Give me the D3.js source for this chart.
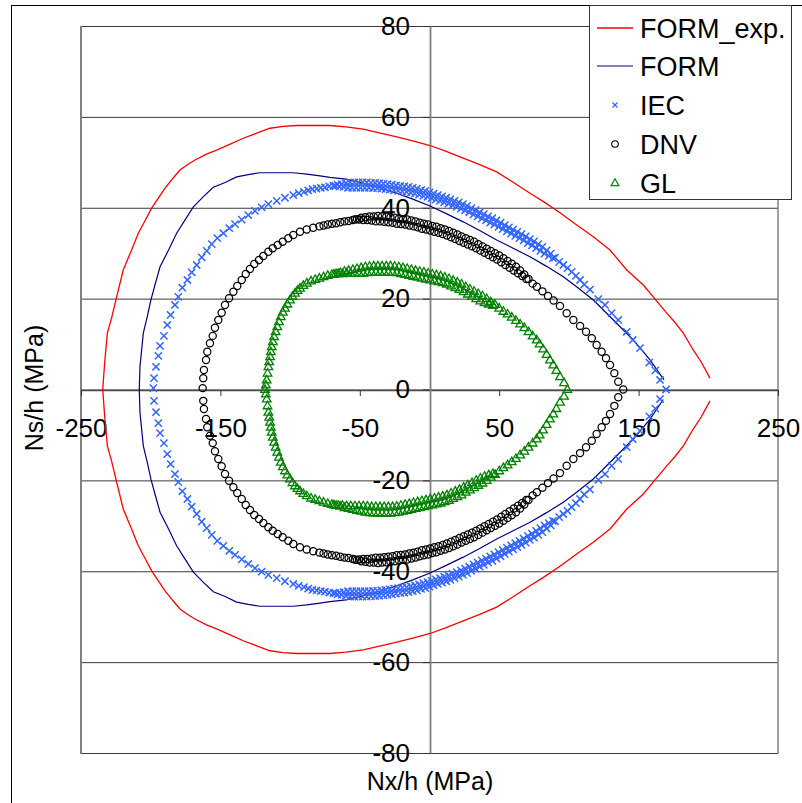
<!DOCTYPE html>
<html>
<head>
<meta charset="utf-8">
<script src="https://cdn.jsdelivr.net/npm/d3@7"></script>
<style>
  body { margin: 0; background: #fff; }
  text { font-family: "Liberation Sans", Arial, sans-serif; }
</style>
</head>
<body>
<div id="chart-area"></div>
<script>
var width = 802;
var height = 803;

// axis ticks
var xTicks = [-250, -150, -50, 50, 150, 250];
var yTicks = [-80, -60, -40, -20, 0, 20, 40, 60, 80];

var legendNames = ["FORM_exp.", "FORM", "IEC", "DNV", "GL"];

// FORM_exp. line (open on the right side)
var formExp = [[201.2,2.5],[195,6],[189.2,8.7],[182.1,12.4],[176,14.8],[170.2,16.8],[161.8,19.9],[153.4,23.0],[141.5,26.3],[129.5,30.7],[117.5,33.6],[105.6,36.2],[93.6,38.9],[82,41.3],[72.1,43.2],[60,45.6],[48.2,47.9],[36,49.5],[24.2,50.9],[12,52.4],[0.4,53.7],[-12,54.7],[-23.5,55.6],[-36,56.5],[-47.5,57.3],[-60,57.8],[-71.4,58.1],[-83,58.1],[-95.3,58.1],[-105,57.9],[-114.4,57.5],[-124,56.4],[-133.6,55.3],[-143,54.0],[-152.7,52.7],[-160,51.8],[-168.2,50.5],[-174,49.4],[-179,48.3],[-184,46.5],[-189.7,44.3],[-195,41.9],[-199.3,39.9],[-204,37.2],[-208.9,34.4],[-214,30.5],[-219.7,26.3],[-224.9,19.8],[-228,15.8],[-231.1,12.4],[-233,6],[-234.4,0],
  [-233,-6],[-231.1,-12.4],[-228,-15.8],[-224.9,-19.8],[-219.7,-26.3],[-214,-30.5],[-208.9,-34.4],[-204,-37.2],[-199.3,-39.9],[-195,-41.9],[-189.7,-44.3],[-184,-46.5],[-179,-48.3],[-174,-49.4],[-168.2,-50.5],[-160,-51.8],[-152.7,-52.7],[-143,-54.0],[-133.6,-55.3],[-124,-56.4],[-114.4,-57.5],[-105,-57.9],[-95.3,-58.1],[-83,-58.1],[-71.4,-58.1],[-60,-57.8],[-47.5,-57.3],[-36,-56.5],[-23.5,-55.6],[-12,-54.7],[0.4,-53.7],[12,-52.4],[24.2,-50.9],[36,-49.5],[48.2,-47.9],[60,-45.6],[72.1,-43.2],[82,-41.3],[93.6,-38.9],[105.6,-36.2],[117.5,-33.6],[129.5,-30.7],[141.5,-26.3],[153.4,-23.0],[161.8,-19.9],[170.2,-16.8],[176,-14.8],[182.1,-12.4],[189.2,-8.7],[195,-6],[201.2,-2.5]];

// FORM line
var form = [[168.2,2.1],[158.2,6.5],[146.2,10.9],[131.9,15.3],[117.5,19.7],[106,22.5],[96,24.8],[84,27.1],[72.1,29.2],[60,31.1],[48.2,32.9],[36,35.0],[24.2,36.9],[12,38.7],[0.4,40.4],[-12,41.9],[-23.5,43.2],[-36,44.4],[-47.5,45.4],[-60,46.3],[-71.4,46.7],[-78.5,47.0],[-88,47.4],[-97.7,47.7],[-110,47.7],[-121.6,47.7],[-130,47.3],[-138.3,46.8],[-147,45.5],[-155.1,44.5],[-162,42.5],[-169.4,40.2],[-175,37.5],[-181.4,34.4],[-187,30.8],[-193.3,27.0],[-196.5,23.5],[-199.8,19.8],[-202.5,16],[-205.3,12.4],[-207.7,5.0],[-208.2,0],
  [-207.7,-5.0],[-205.3,-12.4],[-202.5,-16],[-199.8,-19.8],[-196.5,-23.5],[-193.3,-27.0],[-187,-30.8],[-181.4,-34.4],[-175,-37.5],[-169.4,-40.2],[-162,-42.5],[-155.1,-44.5],[-147,-45.5],[-138.3,-46.8],[-130,-47.3],[-121.6,-47.7],[-110,-47.7],[-97.7,-47.7],[-88,-47.4],[-78.5,-47.0],[-71.4,-46.7],[-60,-46.3],[-47.5,-45.4],[-36,-44.4],[-23.5,-43.2],[-12,-41.9],[0.4,-40.4],[12,-38.7],[24.2,-36.9],[36,-35.0],[48.2,-32.9],[60,-31.1],[72.1,-29.2],[84,-27.1],[96,-24.8],[106,-22.5],[117.5,-19.7],[131.9,-15.3],[146.2,-10.9],[158.2,-6.5],[167.7,-2.2]];

// IEC points
var iecUpper = [[169.7,0],[165.4,2.1],[162,4.2],[157.7,5.9],[151,9.1],[145.8,10.9],[141.5,12.7],[135.4,15.3],[130.7,16.8],[125.9,18.6],[121.1,19.9],[115.1,22.0],[111,23.1],[108,24.1],[105,25.0],[102,25.9],[99,26.7],[96,27.4],[93,28.1],
  [90,29.0],[88.5,28.9],[87,29.9],[85.5,29.4],[84,30.6],[82.5,29.9],[81,31.4],[79.5,30.5],[78,32.0],[76.5,31.1],[75,32.6],[73.5,31.7],[72,33.1],[70.5,32.2],[69,33.7],[67.5,32.8],[66,34.2],[64.5,33.3],[63,34.7],[61.5,33.8],[60,35.2],[58.5,34.3],[57,35.7],[55.5,34.8],[54,36.2],[52.5,35.3],[51,36.7],[49.5,35.8],[48,37.2],[46.5,36.3],[45,37.7],[43.5,36.7],[42,38.1],[40.5,37.2],[39,38.6],[37.5,37.6],[36,39.0],[34.5,38.1],[33,39.5],[31.5,38.5],[30,39.9],[28.5,39.0],[27,40.4],[25.5,39.4],[24,40.8],[22.5,39.8],[21,41.2],[19.5,40.2],[18,41.5],[16.5,40.5],[15,41.9],[13.5,40.9],[12,42.2],[10.5,41.2],[9,42.5],[7.5,41.5],[6,42.8],[4.5,41.8],[3,43.1],[1.5,42.1],[0,43.4],[-1.5,42.4],[-3,43.7],[-4.5,42.6],[-6,43.9],[-7.5,42.9],[-9,44.2],[-10.5,43.1],[-12,44.4],[-13.5,43.3],[-15,44.6],[-16.5,43.5],[-18,44.7],[-19.5,43.6],[-21,44.8],[-22.5,43.7],[-24,44.9],[-25.5,43.8],[-27,45.1],[-28.5,44.0],[-30,45.2],[-31.5,44.1],[-33,45.3],[-34.5,44.2],[-36,45.4],[-37.5,44.3],[-39,45.5],[-40.5,44.3],[-42,45.5],[-43.5,44.4],[-45,45.6],[-46.5,44.4],[-48,45.6],[-49.5,44.4],[-51,45.6],[-52.5,44.4],[-54,45.6],[-55.5,44.4],[-57,45.6],[-58.5,44.4],[-60,45.4],[-61.5,44.6],[-63,45.2],[-64.5,44.7],[-66,45.1],[-67.5,44.8],[-69,44.8],
  [-72,44.7],[-75,44.5],[-78,44.4],[-81,44.2],[-84,44.1],[-87,43.8],[-90,43.5],[-93.8,43.2],[-97.7,42.8],[-103.7,42.2],[-109.6,41.5],[-115.6,40.8],[-120.4,40.1],[-125.2,39.3],[-130,38.4],[-134.7,37.4],[-139.5,36.4],[-143.6,35.5],[-147.9,34.4],[-152.2,33.3],[-156.2,32.0],[-159.8,30.5],[-163.4,29.1],[-167,27.4],[-170.6,25.8],[-173.7,24.1],[-177.3,22.4],[-180.2,20.4],[-182.6,18.6],[-185.7,16.4],[-188.1,14.2],[-190.5,11.8],[-193.3,9.6],[-194.5,7.4],[-196.2,5.0],[-197.6,2.5],[-198.1,0.3]];
var iecLower = [[165.4,-2.1],[162,-4.2],[157.7,-5.9],[151,-9.1],[145.8,-10.9],[141.5,-12.7],[135.4,-15.3],[130.7,-16.8],[125.9,-18.6],[121.1,-19.9],[115.1,-22.0],[111,-23.1],[108,-24.1],[105,-25.0],[102,-25.9],[99,-26.7],[96,-27.4],[93,-28.1],
  [90,-29.0],[88.5,-28.9],[87,-29.9],[85.5,-29.4],[84,-30.6],[82.5,-29.9],[81,-31.4],[79.5,-30.5],[78,-32.0],[76.5,-31.1],[75,-32.6],[73.5,-31.7],[72,-33.1],[70.5,-32.2],[69,-33.7],[67.5,-32.8],[66,-34.2],[64.5,-33.3],[63,-34.7],[61.5,-33.8],[60,-35.2],[58.5,-34.3],[57,-35.7],[55.5,-34.8],[54,-36.2],[52.5,-35.3],[51,-36.7],[49.5,-35.8],[48,-37.2],[46.5,-36.3],[45,-37.7],[43.5,-36.7],[42,-38.1],[40.5,-37.2],[39,-38.6],[37.5,-37.6],[36,-39.0],[34.5,-38.1],[33,-39.5],[31.5,-38.5],[30,-39.9],[28.5,-39.0],[27,-40.4],[25.5,-39.4],[24,-40.8],[22.5,-39.8],[21,-41.2],[19.5,-40.2],[18,-41.5],[16.5,-40.5],[15,-41.9],[13.5,-40.9],[12,-42.2],[10.5,-41.2],[9,-42.5],[7.5,-41.5],[6,-42.8],[4.5,-41.8],[3,-43.1],[1.5,-42.1],[0,-43.4],[-1.5,-42.4],[-3,-43.7],[-4.5,-42.6],[-6,-43.9],[-7.5,-42.9],[-9,-44.2],[-10.5,-43.1],[-12,-44.4],[-13.5,-43.3],[-15,-44.6],[-16.5,-43.5],[-18,-44.7],[-19.5,-43.6],[-21,-44.8],[-22.5,-43.7],[-24,-44.9],[-25.5,-43.8],[-27,-45.1],[-28.5,-44.0],[-30,-45.2],[-31.5,-44.1],[-33,-45.3],[-34.5,-44.2],[-36,-45.4],[-37.5,-44.3],[-39,-45.5],[-40.5,-44.3],[-42,-45.5],[-43.5,-44.4],[-45,-45.6],[-46.5,-44.4],[-48,-45.6],[-49.5,-44.4],[-51,-45.6],[-52.5,-44.4],[-54,-45.6],[-55.5,-44.4],[-57,-45.6],[-58.5,-44.4],[-60,-45.4],[-61.5,-44.6],[-63,-45.2],[-64.5,-44.7],[-66,-45.1],[-67.5,-44.8],[-69,-44.8],
  [-72,-44.7],[-75,-44.5],[-78,-44.4],[-81,-44.2],[-84,-44.1],[-87,-43.8],[-90,-43.5],[-93.8,-43.2],[-97.7,-42.8],[-103.7,-42.2],[-109.6,-41.5],[-115.6,-40.8],[-120.4,-40.1],[-125.2,-39.3],[-130,-38.4],[-134.7,-37.4],[-139.5,-36.4],[-143.6,-35.5],[-147.9,-34.4],[-152.2,-33.3],[-156.2,-32.0],[-159.8,-30.5],[-163.4,-29.1],[-167,-27.4],[-170.6,-25.8],[-173.7,-24.1],[-177.3,-22.4],[-180.2,-20.4],[-182.6,-18.6],[-185.7,-16.4],[-188.1,-14.2],[-190.5,-11.8],[-193.3,-9.6],[-194.5,-7.4],[-196.2,-5.0],[-197.6,-2.5]];

// DNV points
var dnvUpper = [[139,0],[135.4,1.7],[132.6,3.6],[129.5,5.4],[126.6,6.9],[123.5,8.3],[119.9,9.8],[116.4,11.3],[112.3,12.7],[108,14.0],[103.2,15.3],[98.4,16.8],[93.6,18.4],[89,19.6],[85,20.6],[81,21.6],[77,22.6],[74,23.3],
  [71,24.3],[69.5,24.3],[68,25.3],[66.5,25.0],[65,26.2],[63.5,25.6],[62,27.0],[60.5,26.2],[59,27.7],[57.5,26.8],[56,28.3],[54.5,27.4],[53,28.9],[51.5,28.0],[50,29.5],[48.5,28.6],[47,30.0],[45.5,29.1],[44,30.5],[42.5,29.6],[41,31.0],[39.5,30.1],[38,31.5],[36.5,30.6],[35,32.0],[33.5,31.1],[32,32.5],[30.5,31.5],[29,32.9],[27.5,31.9],[26,33.3],[24.5,32.3],[23,33.7],[21.5,32.7],[20,34.1],[18.5,33.1],[17,34.5],[15.5,33.5],[14,34.9],[12.5,33.9],[11,35.2],[9.5,34.2],[8,35.5],[6.5,34.5],[5,35.8],[3.5,34.7],[2,36.0],[0.5,35.0],[-1,36.3],[-2.5,35.2],[-4,36.5],[-5.5,35.4],[-7,36.7],[-8.5,35.7],[-10,37.0],[-11.5,35.9],[-13,37.2],[-14.5,36.1],[-16,37.4],[-17.5,36.3],[-19,37.5],[-20.5,36.4],[-22,37.6],[-23.5,36.5],[-25,37.8],[-26.5,36.7],[-28,37.9],[-29.5,36.8],[-31,38.0],[-32.5,36.9],[-34,38.1],[-35.5,37.0],[-37,38.2],[-38.5,37.0],[-40,38.1],[-41.5,37.2],[-43,38.1],[-44.5,37.3],[-46,37.9],[-47.5,37.3],[-49,37.8],[-50.5,37.4],[-52,37.5],[-53.5,37.4],[-55,37.3],[-58,37.1],
  [-61,37.0],[-64,36.8],[-67,36.6],[-70,36.5],[-73,36.3],[-76,36.1],[-79,35.9],[-83.4,35.6],[-88.1,35.2],[-92.9,34.7],[-97.7,34.0],[-101.3,33.3],[-105.3,32.5],[-108.9,31.8],[-112.5,31.1],[-115.6,30.3],[-119.2,29.4],[-122.3,28.5],[-125.7,27.6],[-128.8,26.5],[-131.8,25.4],[-134.7,24.1],[-137.9,22.8],[-140.7,21.5],[-143.8,20.1],[-146.7,18.6],[-149.1,16.9],[-151.5,15.3],[-153.9,13.6],[-155.5,11.8],[-157.5,10.2],[-159.4,8.3],[-160.3,6.5],[-161.8,4.3],[-162.3,2.5],[-162.7,0.3]];
var dnvLower = [[135.4,-1.7],[132.6,-3.6],[129.5,-5.4],[126.6,-6.9],[123.5,-8.3],[119.9,-9.8],[116.4,-11.3],[112.3,-12.7],[108,-14.0],[103.2,-15.3],[98.4,-16.8],[93.6,-18.4],[89,-19.6],[85,-20.6],[81,-21.6],[77,-22.6],[74,-23.3],
  [71,-24.3],[69.5,-24.3],[68,-25.3],[66.5,-25.0],[65,-26.2],[63.5,-25.6],[62,-27.0],[60.5,-26.2],[59,-27.7],[57.5,-26.8],[56,-28.3],[54.5,-27.4],[53,-28.9],[51.5,-28.0],[50,-29.5],[48.5,-28.6],[47,-30.0],[45.5,-29.1],[44,-30.5],[42.5,-29.6],[41,-31.0],[39.5,-30.1],[38,-31.5],[36.5,-30.6],[35,-32.0],[33.5,-31.1],[32,-32.5],[30.5,-31.5],[29,-32.9],[27.5,-31.9],[26,-33.3],[24.5,-32.3],[23,-33.7],[21.5,-32.7],[20,-34.1],[18.5,-33.1],[17,-34.5],[15.5,-33.5],[14,-34.9],[12.5,-33.9],[11,-35.2],[9.5,-34.2],[8,-35.5],[6.5,-34.5],[5,-35.8],[3.5,-34.7],[2,-36.0],[0.5,-35.0],[-1,-36.3],[-2.5,-35.2],[-4,-36.5],[-5.5,-35.4],[-7,-36.7],[-8.5,-35.7],[-10,-37.0],[-11.5,-35.9],[-13,-37.2],[-14.5,-36.1],[-16,-37.4],[-17.5,-36.3],[-19,-37.5],[-20.5,-36.4],[-22,-37.6],[-23.5,-36.5],[-25,-37.8],[-26.5,-36.7],[-28,-37.9],[-29.5,-36.8],[-31,-38.0],[-32.5,-36.9],[-34,-38.1],[-35.5,-37.0],[-37,-38.2],[-38.5,-37.0],[-40,-38.1],[-41.5,-37.2],[-43,-38.1],[-44.5,-37.3],[-46,-37.9],[-47.5,-37.3],[-49,-37.8],[-50.5,-37.4],[-52,-37.5],[-53.5,-37.4],[-55,-37.3],[-58,-37.1],
  [-61,-37.0],[-64,-36.8],[-67,-36.6],[-70,-36.5],[-73,-36.3],[-76,-36.1],[-79,-35.9],[-83.4,-35.6],[-88.1,-35.2],[-92.9,-34.7],[-97.7,-34.0],[-101.3,-33.3],[-105.3,-32.5],[-108.9,-31.8],[-112.5,-31.1],[-115.6,-30.3],[-119.2,-29.4],[-122.3,-28.5],[-125.7,-27.6],[-128.8,-26.5],[-131.8,-25.4],[-134.7,-24.1],[-137.9,-22.8],[-140.7,-21.5],[-143.8,-20.1],[-146.7,-18.6],[-149.1,-16.9],[-151.5,-15.3],[-153.9,-13.6],[-155.5,-11.8],[-157.5,-10.2],[-159.4,-8.3],[-160.3,-6.5],[-161.8,-4.3],[-162.3,-2.5]];

// GL points
var glUpper = [[98.9,0],[96.5,1.5],[93.6,2.8],[91,4.2],[88.8,5.4],[86.4,6.5],[84,7.7],[81.5,8.9],[79,10.0],[76.9,10.9],[74,11.8],[71,12.7],[68,13.6],[65,14.4],[62,15.2],[59,15.9],[56,16.6],[53,17.2],[50,17.9],
  [47,18.7],[45.5,18.5],[44,19.3],[42.5,18.8],[41,20.0],[39.5,19.1],[38,20.6],[36.5,19.5],[35,21.1],[33.5,20.0],[32,21.6],[30.5,20.5],[29,22.1],[27.5,21.0],[26,22.6],[24.5,21.5],[23,23.2],[21.5,22.0],[20,23.6],[18.5,22.4],[17,24.0],[15.5,22.8],[14,24.4],[12.5,23.2],[11,24.7],[9.5,23.5],[8,25.0],[6.5,23.7],[5,25.2],[3.5,23.9],[2,25.4],[0.5,24.1],[-1,25.6],[-2.5,24.3],[-4,25.8],[-5.5,24.5],[-7,26.0],[-8.5,24.7],[-10,26.2],[-11.5,24.9],[-13,26.4],[-14.5,25.1],[-16,26.6],[-17.5,25.3],[-19,26.8],[-20.5,25.5],[-22,27.0],[-23.5,25.7],[-25,27.1],[-26.5,25.8],[-28,27.2],[-29.5,25.8],[-31,27.2],[-32.5,25.8],[-34,27.2],[-35.5,25.8],[-37,27.2],[-38.5,25.8],[-40,27.2],[-41.5,25.8],[-43,27.1],[-44.5,25.7],[-46,27.0],[-47.5,25.6],[-49,26.8],[-50.5,25.6],[-52,26.6],[-53.5,25.6],[-55,26.4],[-56.5,25.6],[-58,26.2],[-59.5,25.6],[-61,26.0],[-62.5,25.5],[-64,25.7],[-65.5,25.5],[-67,25.5],[-68.5,25.4],[-70,25.3],
  [-73,25.1],[-76,24.8],[-79,24.5],[-82,24.2],[-85,23.9],[-88,23.4],[-90.5,22.9],[-92.9,22.3],[-94.7,21.8],[-96.5,21.2],[-98.3,20.5],[-100.1,19.7],[-102,18.8],[-103.7,17.9],[-105.2,17.0],[-106.7,16.0],[-108,14.9],[-109.2,13.8],[-110.4,12.7],[-111.5,11.6],[-112.4,10.5],[-113.2,9.4],[-113.8,8.3],[-114.4,7.2],[-115,6.1],[-115.6,5.0],[-116.2,3.6],[-116.8,2.1],[-117.4,1.0],[-118,0]];
var glLower = [[96.5,-1.5],[93.6,-2.8],[91,-4.2],[88.8,-5.4],[86.4,-6.5],[84,-7.7],[81.5,-8.9],[79,-10.0],[76.9,-10.9],[74,-11.8],[71,-12.7],[68,-13.6],[65,-14.4],[62,-15.2],[59,-15.9],[56,-16.6],[53,-17.2],[50,-17.9],
  [47,-18.7],[45.5,-18.5],[44,-19.3],[42.5,-18.8],[41,-20.0],[39.5,-19.1],[38,-20.6],[36.5,-19.5],[35,-21.1],[33.5,-20.0],[32,-21.6],[30.5,-20.5],[29,-22.1],[27.5,-21.0],[26,-22.6],[24.5,-21.5],[23,-23.2],[21.5,-22.0],[20,-23.6],[18.5,-22.4],[17,-24.0],[15.5,-22.8],[14,-24.4],[12.5,-23.2],[11,-24.7],[9.5,-23.5],[8,-25.0],[6.5,-23.7],[5,-25.2],[3.5,-23.9],[2,-25.4],[0.5,-24.1],[-1,-25.6],[-2.5,-24.3],[-4,-25.8],[-5.5,-24.5],[-7,-26.0],[-8.5,-24.7],[-10,-26.2],[-11.5,-24.9],[-13,-26.4],[-14.5,-25.1],[-16,-26.6],[-17.5,-25.3],[-19,-26.8],[-20.5,-25.5],[-22,-27.0],[-23.5,-25.7],[-25,-27.1],[-26.5,-25.8],[-28,-27.2],[-29.5,-25.8],[-31,-27.2],[-32.5,-25.8],[-34,-27.2],[-35.5,-25.8],[-37,-27.2],[-38.5,-25.8],[-40,-27.2],[-41.5,-25.8],[-43,-27.1],[-44.5,-25.7],[-46,-27.0],[-47.5,-25.6],[-49,-26.8],[-50.5,-25.6],[-52,-26.6],[-53.5,-25.6],[-55,-26.4],[-56.5,-25.6],[-58,-26.2],[-59.5,-25.6],[-61,-26.0],[-62.5,-25.5],[-64,-25.7],[-65.5,-25.5],[-67,-25.5],[-68.5,-25.4],[-70,-25.3],
  [-73,-25.1],[-76,-24.8],[-79,-24.5],[-82,-24.2],[-85,-23.9],[-88,-23.4],[-90.5,-22.9],[-92.9,-22.3],[-94.7,-21.8],[-96.5,-21.2],[-98.3,-20.5],[-100.1,-19.7],[-102,-18.8],[-103.7,-17.9],[-105.2,-17.0],[-106.7,-16.0],[-108,-14.9],[-109.2,-13.8],[-110.4,-12.7],[-111.5,-11.6],[-112.4,-10.5],[-113.2,-9.4],[-113.8,-8.3],[-114.4,-7.2],[-115,-6.1],[-115.6,-5.0],[-116.2,-3.6],[-116.8,-2.1],[-117.4,-1.0]];

var iec = iecUpper.concat(iecLower);
var dnv = dnvUpper.concat(dnvLower);
var gl = glUpper.concat(glLower);

var svg = d3.select("#chart-area").append("svg")
    .attr("width", width)
    .attr("height", height);

svg.append("rect")
    .attr("width", width)
    .attr("height", height)
    .attr("fill", "white");

// outer chart border
svg.append("rect")
    .attr("x", 11.5)
    .attr("y", 5.5)
    .attr("width", 900)
    .attr("height", 900)
    .attr("fill", "none")
    .attr("stroke", "black");

var x = d3.scaleLinear().domain([-250, 250]).range([81, 778]);
var y = d3.scaleLinear().domain([-80, 80]).range([753, 26]);

// gridlines
svg.append("g")
    .selectAll("line")
    .data(yTicks)
    .enter()
    .append("line")
    .attr("x1", x(-250))
    .attr("x2", x(250))
    .attr("y1", function(d){ return y(d) + 0.5; })
    .attr("y2", function(d){ return y(d) + 0.5; })
    .attr("stroke", "#3a3a3a")
    .attr("stroke-width", 1);

// plot area side borders
svg.append("line")
    .attr("x1", x(-250)).attr("x2", x(-250))
    .attr("y1", y(80)).attr("y2", y(-80) + 1)
    .attr("stroke", "#808080").attr("stroke-width", 2);
svg.append("line")
    .attr("x1", x(250)).attr("x2", x(250))
    .attr("y1", y(80)).attr("y2", y(-80) + 1)
    .attr("stroke", "#808080").attr("stroke-width", 1.5);

// x axis through y = 0
var xAxis = d3.axisBottom(x)
    .tickValues(xTicks)
    .tickSize(6)
    .tickSizeOuter(0)
    .tickPadding(23)
    .tickFormat(function(d){ return String(d); });

var gx = svg.append("g")
    .attr("transform", "translate(0," + (y(0) + 0.5) + ")")
    .call(xAxis);
gx.select(".domain").attr("stroke", "#4a4a4a").attr("stroke-width", 1.3);
gx.selectAll(".tick line").attr("stroke", "#333");
gx.selectAll("text")
    .attr("fill", "black")
    .style("font-size", "26px")
    .style("font-family", "'Liberation Sans', Arial, sans-serif");

// y axis through x = 0
var yAxis = d3.axisLeft(y)
    .tickValues(yTicks)
    .tickSize(7)
    .tickSizeOuter(0)
    .tickPadding(13)
    .tickFormat(function(d){ return String(d); });

var gy = svg.append("g")
    .attr("transform", "translate(" + (x(0) + 0.5) + ",0)")
    .call(yAxis);
gy.select(".domain").attr("stroke", "#808080").attr("stroke-width", 1.8);
gy.selectAll(".tick line").attr("stroke", "#333");
gy.selectAll("text")
    .attr("fill", "black")
    .style("font-size", "26px")
    .style("font-family", "'Liberation Sans', Arial, sans-serif");

// series
var line = d3.line()
    .x(function(d){ return x(d[0]); })
    .y(function(d){ return y(d[1]); });

svg.append("path")
    .attr("d", line(formExp))
    .attr("fill", "none")
    .attr("stroke", "#ff0000")
    .attr("stroke-width", 1.3);

svg.append("path")
    .attr("d", line(form))
    .attr("fill", "none")
    .attr("stroke", "#000080")
    .attr("stroke-width", 1.2);

var crossPath = "M-3.6,-3.6L3.6,3.6M-3.6,3.6L3.6,-3.6";
var triPath = "M0,-4.6L4.3,2.9L-4.3,2.9Z";

svg.append("g")
    .selectAll("path")
    .data(iec)
    .enter()
    .append("path")
    .attr("d", crossPath)
    .attr("transform", function(d){ return "translate(" + x(d[0]) + "," + y(d[1]) + ")"; })
    .attr("fill", "none")
    .attr("stroke", "#3366ff")
    .attr("stroke-width", 1.5);

svg.append("g")
    .selectAll("circle")
    .data(dnv)
    .enter()
    .append("circle")
    .attr("cx", function(d){ return x(d[0]); })
    .attr("cy", function(d){ return y(d[1]); })
    .attr("r", 3.6)
    .attr("fill", "none")
    .attr("stroke", "black")
    .attr("stroke-width", 1.25);

svg.append("g")
    .selectAll("path")
    .data(gl)
    .enter()
    .append("path")
    .attr("d", triPath)
    .attr("transform", function(d){ return "translate(" + x(d[0]) + "," + y(d[1]) + ")"; })
    .attr("fill", "none")
    .attr("stroke", "#008000")
    .attr("stroke-width", 1.3);

// axis titles
svg.append("text")
    .text("Nx/h (MPa)")
    .attr("x", 430)
    .attr("y", 790)
    .attr("text-anchor", "middle")
    .style("font-size", "25px");

svg.append("text")
    .text("Ns/h (MPa)")
    .attr("transform", "translate(43,388) rotate(-90)")
    .attr("text-anchor", "middle")
    .style("font-size", "25px");

// legend
var legend = svg.append("g");
legend.append("rect")
    .attr("x", 589.5)
    .attr("y", 5.5)
    .attr("width", 202)
    .attr("height", 194)
    .attr("fill", "white")
    .attr("stroke", "#333");

var legendY = [28, 66, 105, 144, 183];

legend.selectAll("text.name")
    .data(legendNames)
    .enter()
    .append("text")
    .attr("class", "name")
    .text(function(d){ return d; })
    .attr("x", 640)
    .attr("y", function(d, i){ return legendY[i]; })
    .attr("dy", "0.36em")
    .style("font-size", "27px");

legend.append("line")
    .attr("x1", 597).attr("x2", 633)
    .attr("y1", legendY[0]).attr("y2", legendY[0])
    .attr("stroke", "#ff0000").attr("stroke-width", 1.3);
legend.append("line")
    .attr("x1", 597).attr("x2", 633)
    .attr("y1", legendY[1]).attr("y2", legendY[1])
    .attr("stroke", "#000080").attr("stroke-width", 1.2);
legend.append("path")
    .attr("d", "M-2.5,-2.5L2.5,2.5M-2.5,2.5L2.5,-2.5")
    .attr("transform", "translate(615," + legendY[2] + ")")
    .attr("stroke", "#3366ff").attr("stroke-width", 1.3);
legend.append("circle")
    .attr("cx", 615).attr("cy", legendY[3]).attr("r", 3.3)
    .attr("fill", "none").attr("stroke", "black").attr("stroke-width", 1.1);
legend.append("path")
    .attr("d", "M0,-4.2L3.9,2.6L-3.9,2.6Z")
    .attr("transform", "translate(615," + legendY[4] + ")")
    .attr("fill", "none").attr("stroke", "#008000").attr("stroke-width", 1.2);
</script>
</body>
</html>
